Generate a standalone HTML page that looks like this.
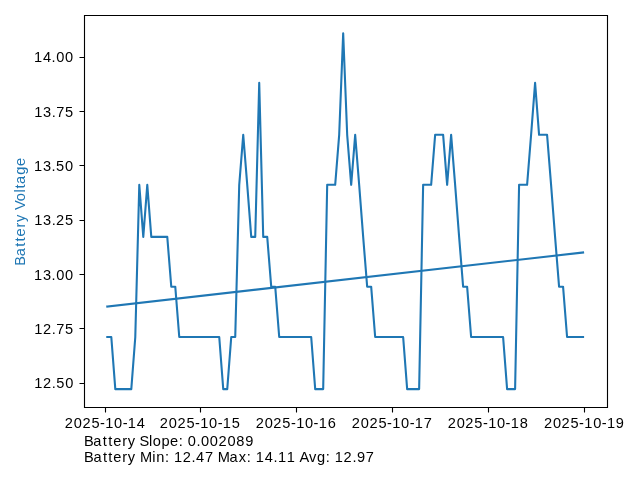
<!DOCTYPE html>
<html><head><meta charset="utf-8"><style>
html,body{margin:0;padding:0;background:#fff;width:640px;height:480px;overflow:hidden}
svg{display:block;will-change:transform}
text{font-family:"Liberation Sans", sans-serif}
</style></head><body>
<svg width="640" height="480" viewBox="0 0 640 480"><polyline points="107.30,337.00 111.30,337.00 115.30,389.10 119.29,389.10 123.29,389.10 127.29,389.10 131.29,389.10 135.29,337.00 139.28,184.80 143.28,236.90 147.28,184.80 151.28,236.90 155.28,236.90 159.27,236.90 163.27,236.90 167.27,236.90 171.27,286.70 175.27,286.70 179.26,337.00 183.26,337.00 187.26,337.00 191.26,337.00 195.26,337.00 199.25,337.00 203.25,337.00 207.25,337.00 211.25,337.00 215.25,337.00 219.24,337.00 223.24,389.10 227.24,389.10 231.24,337.00 235.24,337.00 239.23,184.80 243.23,134.80 247.23,184.80 251.23,236.90 255.23,236.90 259.22,82.90 263.22,236.90 267.22,236.90 271.22,286.70 275.22,286.70 279.21,337.00 283.21,337.00 287.21,337.00 291.21,337.00 295.21,337.00 299.20,337.00 303.20,337.00 307.20,337.00 311.20,337.00 315.20,389.10 319.19,389.10 323.19,389.10 327.19,184.80 331.19,184.80 335.19,184.80 339.18,134.80 343.18,33.30 347.18,134.80 351.18,184.80 355.18,134.80 359.17,184.80 363.17,236.90 367.17,286.70 371.17,286.70 375.17,337.00 379.16,337.00 383.16,337.00 387.16,337.00 391.16,337.00 395.16,337.00 399.15,337.00 403.15,337.00 407.15,389.10 411.15,389.10 415.15,389.10 419.14,389.10 423.14,184.80 427.14,184.80 431.14,184.80 435.14,134.80 439.13,134.80 443.13,134.80 447.13,184.80 451.13,134.80 455.13,184.80 459.12,236.90 463.12,286.70 467.12,286.70 471.12,337.00 475.12,337.00 479.11,337.00 483.11,337.00 487.11,337.00 491.11,337.00 495.11,337.00 499.10,337.00 503.10,337.00 507.10,389.10 511.10,389.10 515.10,389.10 519.09,184.80 523.09,184.80 527.09,184.80 531.09,134.80 535.09,82.90 539.08,134.80 543.08,134.80 547.08,134.80 551.08,184.80 555.08,236.90 559.07,286.70 563.07,286.70 567.07,337.00 571.07,337.00 575.07,337.00 579.06,337.00 583.06,337.00" fill="none" stroke="#1f77b4" stroke-width="2.083" stroke-linejoin="round" stroke-linecap="square"/>
<line x1="107.30" y1="306.54" x2="583.06" y2="252.52" stroke="#1f77b4" stroke-width="2.083" stroke-linecap="square"/>
<path d="M84.5 15.5H607.5V407.5H84.5Z" fill="none" stroke="#000" stroke-width="1.11" stroke-linecap="square"/>
<path d="M79.5 57.5H84.5M79.5 111.5H84.5M79.5 165.5H84.5M79.5 220.5H84.5M79.5 274.5H84.5M79.5 328.5H84.5M79.5 383.5H84.5M105.5 407.5V412.5M200.5 407.5V412.5M296.5 407.5V412.5M392.5 407.5V412.5M488.5 407.5V412.5M584.5 407.5V412.5" fill="none" stroke="#000" stroke-width="1.11"/>
<g font-family='"Liberation Sans", sans-serif' font-size="14.6" fill="#000" stroke-width="0.0"><text x="34.06 42.96 51.61 56.20 65.03" y="62.00">14.00</text><text x="34.16 43.08 51.71 56.27 65.07" y="117.00">13.75</text><text x="33.96 42.88 51.51 56.05 64.93" y="171.00">13.50</text><text x="34.16 43.08 51.71 56.12 65.07" y="225.00">13.25</text><text x="34.06 42.98 51.61 56.20 65.03" y="280.00">13.00</text><text x="34.16 42.88 51.71 56.27 65.07" y="334.00">12.75</text><text x="34.16 42.88 51.71 56.25 65.13" y="388.00">12.50</text><text x="64.77 73.78 82.43 91.38 99.99 105.20 114.10 122.65 127.86 136.76" y="428.00">2025-10-14</text><text x="159.77 168.78 177.43 186.38 194.99 200.20 209.10 217.65 222.86 231.71" y="428.00">2025-10-15</text><text x="255.71 264.72 273.36 282.32 290.92 296.14 305.04 313.59 318.80 327.70" y="428.00">2025-10-16</text><text x="351.77 360.78 369.43 378.38 386.99 392.20 401.10 409.65 414.86 423.73" y="428.00">2025-10-17</text><text x="447.71 456.72 465.36 474.32 482.92 488.14 497.04 505.59 510.80 519.70" y="428.00">2025-10-18</text><text x="543.91 552.92 561.56 570.52 579.12 584.34 593.24 601.79 607.00 615.86" y="428.00">2025-10-19</text><text x="83.97 93.29 102.78 108.22 113.24 122.23 127.70 135.63 139.48 148.98 152.72 161.45 170.06 178.67 183.21 187.80 196.44 201.04 209.87 218.51 227.52 236.35 245.13" y="446.00">Battery Slope: 0.002089</text><text x="84.07 93.39 102.88 108.32 113.34 122.33 127.80 135.73 139.88 152.25 156.16 164.90 169.44 173.95 182.67 191.50 196.09 204.89 213.57 217.72 229.44 238.70 246.80 251.34 255.85 264.75 273.40 277.92 286.75 295.47 299.58 308.90 316.92 325.78 330.32 334.83 343.55 352.38 356.93 365.77" y="462.00">Battery Min: 12.47 Max: 14.11 Avg: 12.97</text><text transform="translate(25.00,265.54) rotate(-90)" x="-0.13 9.19 18.68 24.12 29.14 38.13 43.60 51.53 55.64 64.32 72.93 77.13 81.59 90.68 99.47" y="0" fill="#1f77b4">Battery Voltage</text></g></svg>
</body></html>
